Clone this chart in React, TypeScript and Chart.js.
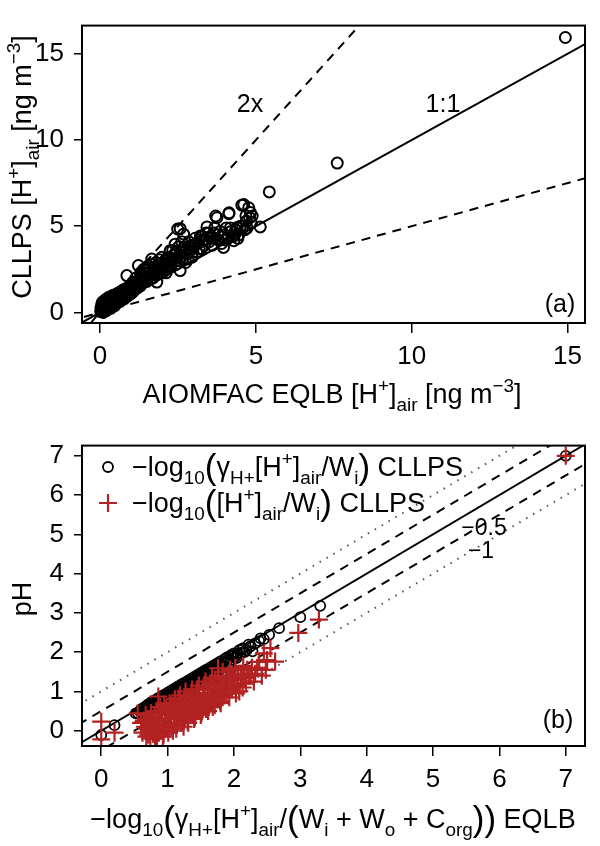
import React, { useEffect, useRef } from 'react';
import { Chart, registerables } from 'chart.js';

Chart.register(...registerables);

const FONT = '"Liberation Sans", Arial, Helvetica, sans-serif';
const RED = '#B22222';

// ---------- Panel (a): CLLPS vs AIOMFAC EQLB [H+]air (ng m-3) ----------
const aTicks = [0, 5, 10, 15];
const aSlopes = [1, 2, 0.5]; // 1:1, 2x, 0.5x reference lines
const aPairs: [number, number][] = [
  [0.02, 0.05], [0.03, 0.25], [0.05, 0.45], [0.06, 0.15], [0.08, 0.6], [0.1, 0.35], [0.1, 0.0],
  [0.12, 0.5], [0.14, 0.2], [0.15, 0.7], [0.17, 0.4], [0.2, 0.55], [0.2, 0.1], [0.22, 0.8],
  [0.25, 0.3], [0.27, 0.6], [0.3, 0.45], [0.3, 0.9], [0.33, 0.7], [0.35, 0.25], [0.38, 0.55],
  [0.4, 0.85], [0.42, 1.0], [0.45, 0.6], [0.47, 0.4], [0.5, 0.75], [0.52, 1.05], [0.55, 0.9],
  [0.58, 0.6], [0.6, 1.15], [0.62, 0.8], [0.65, 1.0], [0.68, 0.7], [0.7, 1.25], [0.72, 0.9],
  [0.75, 1.1], [0.78, 0.8], [0.8, 1.35], [0.82, 1.0], [0.85, 1.2], [0.88, 0.95], [0.9, 1.45],
  [0.93, 1.15], [0.96, 1.3], [1.0, 1.1], [1.0, 1.6],
  [0.04, 0.12], [0.07, 0.3], [0.09, 0.5], [0.11, 0.22], [0.13, 0.65], [0.16, 0.3], [0.18, 0.5],
  [0.19, 0.75], [0.23, 0.45], [0.24, 0.65], [0.26, 0.2], [0.28, 0.75], [0.31, 0.6], [0.34, 0.45],
  [0.36, 0.8], [0.39, 0.7], [0.41, 0.5], [0.44, 0.95], [0.46, 0.75], [0.49, 0.55], [0.51, 0.9],
  [0.54, 0.7], [0.57, 1.0], [0.59, 0.8], [0.61, 0.95], [0.64, 0.75], [0.67, 1.1], [0.69, 0.85],
  [0.71, 1.0], [0.74, 1.3], [0.77, 1.0], [0.79, 1.15], [0.83, 1.3], [0.87, 1.1], [0.91, 1.3],
  [0.94, 1.5], [0.98, 1.2],
  [0.86, 2.14], [1.05, 1.75], [1.1, 1.4], [1.15, 2.0], [1.2, 1.6], [1.23, 2.72], [1.25, 1.85],
  [1.3, 2.3], [1.35, 1.7], [1.4, 2.5], [1.45, 2.05], [1.5, 2.24], [1.5, 1.8], [1.55, 2.7],
  [1.6, 2.35], [1.62, 1.95], [1.66, 3.1], [1.7, 2.6], [1.75, 2.2], [1.8, 2.9], [1.82, 1.76],
  [1.85, 2.45], [1.9, 3.05], [1.95, 2.65], [1.98, 3.2], [2.0, 2.3], [2.05, 2.85], [2.1, 2.5],
  [2.15, 3.15], [2.2, 2.7], [1.3, 1.55], [1.7, 2.0], [2.25, 3.58],
  [1.03, 1.45], [1.06, 1.2], [1.09, 1.6], [1.13, 1.35], [1.18, 1.75], [1.22, 1.45], [1.27, 1.95],
  [1.33, 2.1], [1.38, 1.9], [1.42, 2.3], [1.47, 2.5], [1.53, 2.0], [1.58, 2.55], [1.64, 2.2],
  [1.68, 2.8], [1.73, 2.4], [1.78, 2.65], [1.83, 2.2], [1.88, 2.7], [1.92, 2.3], [2.02, 2.6],
  [2.08, 3.0], [2.12, 2.3], [2.18, 2.9], [2.24, 3.2], [2.28, 2.7],
  [2.3, 3.0], [2.35, 3.3], [2.41, 3.96], [2.45, 2.8], [2.49, 4.84], [2.57, 4.86], [2.57, 2.43],
  [2.6, 3.5], [2.65, 3.1], [2.68, 4.54], [2.7, 3.8], [2.75, 2.9], [2.8, 3.4], [2.85, 4.1],
  [2.89, 3.58], [2.95, 3.2], [3.0, 3.9], [3.05, 4.3], [3.1, 3.5], [3.15, 4.0], [3.22, 4.44],
  [3.25, 3.7], [3.3, 4.2], [3.35, 3.9], [3.4, 4.6], [3.43, 4.96], [3.5, 4.1], [3.55, 4.4],
  [2.33, 3.6], [2.38, 3.1], [2.44, 3.5], [2.52, 3.8], [2.55, 3.0], [2.62, 4.1], [2.72, 3.5],
  [2.78, 3.7], [2.82, 3.1], [2.92, 3.9], [2.98, 3.5], [3.08, 4.0], [3.18, 3.7], [3.28, 4.4],
  [3.38, 4.2], [3.48, 4.6],
  [3.6, 3.9], [3.65, 4.6], [3.71, 5.59], [3.75, 5.49], [3.8, 4.2], [3.85, 4.7], [3.9, 4.0],
  [3.96, 3.77], [4.0, 4.5], [4.05, 4.9], [4.1, 4.3], [4.13, 5.73], [4.14, 5.78], [4.2, 4.7],
  [4.25, 4.4], [4.29, 4.16], [4.35, 4.8], [4.4, 4.92], [4.45, 4.5], [4.5, 5.0], [4.55, 6.22],
  [4.61, 6.26], [4.65, 4.8], [4.7, 5.3], [4.77, 6.07], [4.8, 5.5], [4.85, 5.2], [4.88, 5.59],
  [3.58, 4.3], [3.68, 4.9], [3.78, 4.5], [3.88, 4.4], [4.02, 4.2], [4.18, 4.9], [4.32, 4.5],
  [4.42, 4.3], [4.58, 5.0], [4.68, 5.6], [4.72, 4.9], [4.82, 5.8],
  [5.14, 4.96], [5.43, 6.99], [7.61, 8.66], [14.93, 15.94],
];

// ---------- Panel (b): pH ----------
const bTicks = [0, 1, 2, 3, 4, 5, 6, 7];
const bSolidOffsets = [0];
const bDashedOffsets = [0.5, -0.5];
const bDottedOffsets = [1, -1];
const bCirclePairs: [number, number][] = [
  [0.0, -0.11], [0.2, 0.14], [0.52, 0.44], [0.58, 0.5], [0.62, 0.4], [0.65, 0.6], [0.68, 0.48],
  [0.7, 0.66], [0.72, 0.52], [0.75, 0.72], [0.77, 0.55], [0.8, 0.77], [0.82, 0.6], [0.85, 0.82],
  [0.87, 0.64], [0.9, 0.87], [0.92, 0.68], [0.95, 0.92], [0.97, 0.72], [1.0, 0.97], [1.02, 0.78],
  [1.05, 1.02], [1.07, 0.82], [1.1, 1.07], [1.12, 0.88], [1.15, 1.12], [1.17, 0.92], [1.2, 1.17],
  [1.22, 0.98], [1.25, 1.22], [1.27, 1.02], [1.3, 1.27], [1.32, 1.08], [1.35, 1.32], [1.37, 1.12],
  [1.4, 1.37], [1.42, 1.18], [1.45, 1.42], [1.47, 1.22], [1.5, 1.47], [1.52, 1.28], [1.55, 1.52],
  [1.57, 1.32], [1.6, 1.57], [1.62, 1.38], [1.65, 1.62], [1.67, 1.42], [1.7, 1.67], [1.72, 1.48],
  [1.75, 1.72], [1.78, 1.55], [1.8, 1.77], [1.83, 1.6], [1.86, 1.83], [1.9, 1.87], [1.93, 1.72],
  [1.96, 1.93], [2.0, 1.97], [2.04, 1.85], [2.08, 2.05], [2.12, 2.08], [2.16, 2.0], [2.22, 2.19],
  [0.55, 0.45], [0.6, 0.55], [0.63, 0.5], [0.66, 0.45], [0.69, 0.62], [0.71, 0.55], [0.73, 0.68],
  [0.76, 0.6], [0.79, 0.72], [0.81, 0.65], [0.84, 0.75], [0.86, 0.7], [0.89, 0.8], [0.91, 0.72],
  [0.94, 0.85], [0.96, 0.78], [0.99, 0.9], [1.01, 0.82], [1.04, 0.95], [1.06, 0.88], [1.09, 1.0],
  [1.11, 0.93], [1.14, 1.05], [1.16, 0.98], [1.19, 1.1], [1.21, 1.03], [1.24, 1.15], [1.26, 1.08],
  [1.29, 1.2], [1.31, 1.13], [1.34, 1.25], [1.36, 1.18], [1.39, 1.3], [1.41, 1.23], [1.44, 1.35],
  [1.46, 1.28], [1.49, 1.4], [1.51, 1.33], [1.54, 1.45], [1.56, 1.38], [1.59, 1.5], [1.61, 1.43],
  [1.64, 1.55], [1.66, 1.48], [1.69, 1.6], [1.71, 1.53], [1.74, 1.65], [1.76, 1.58], [1.79, 1.7],
  [1.81, 1.63], [1.84, 1.75], [1.88, 1.72], [1.91, 1.82], [1.95, 1.8], [1.98, 1.9], [2.02, 1.88],
  [2.06, 1.95], [2.1, 1.98], [2.14, 2.1], [2.19, 2.05], [2.25, 2.15], [2.32, 2.22], [2.4, 2.35],
  [2.28, 2.02], [2.38, 2.28], [2.45, 2.33], [2.53, 2.44], [2.68, 2.61], [3.0, 2.89], [3.3, 3.18],
  [7.0, 7.0],
];
const bCrossPairs: [number, number][] = [
  [0.0, 0.23], [0.0, -0.22], [0.2, -0.05], [0.55, 0.44], [0.6, 0.2], [0.62, -0.05], [0.66, 0.1],
  [0.68, -0.15], [0.7, 0.3], [0.72, 0.0], [0.74, -0.2], [0.76, 0.15], [0.78, -0.08], [0.8, 0.35],
  [0.82, 0.05], [0.84, -0.15], [0.86, 0.87], [0.86, 0.25], [0.88, 0.0], [0.9, 0.45], [0.92, 0.12],
  [0.94, -0.1], [0.96, 0.3], [0.98, 0.55], [1.0, 0.1], [1.02, 0.4], [1.04, 0.2], [1.06, 0.65],
  [1.08, 0.0], [1.1, 0.35], [1.12, 0.5], [1.14, 0.15], [1.16, 0.75], [1.18, 0.83], [1.2, 0.3],
  [1.22, 0.55], [1.24, 0.1], [1.26, 0.45], [1.28, 0.85], [1.3, 0.25], [1.32, 0.65], [1.34, 0.4],
  [1.36, 0.95], [1.38, 0.55], [1.4, 0.3], [1.42, 0.75], [1.44, 1.05], [1.46, 0.5], [1.48, 0.85],
  [1.5, 0.4], [1.52, 0.65], [1.54, 1.1], [1.56, 0.8], [1.58, 0.55], [1.6, 0.95], [1.62, 0.7],
  [1.64, 1.2], [1.66, 0.85], [1.68, 0.6], [1.7, 1.05], [1.72, 1.3], [1.74, 0.8], [1.76, 1.59],
  [1.78, 1.0], [1.8, 0.7], [1.82, 1.2], [1.85, 0.9], [1.88, 1.35], [1.9, 1.05], [1.93, 0.85],
  [1.96, 1.4], [2.0, 1.15], [2.03, 0.95], [2.06, 1.3], [2.1, 1.45], [2.13, 1.1], [2.16, 1.34],
  [2.2, 1.55], [2.25, 1.42], [2.3, 1.25], [2.35, 1.6], [2.45, 1.97], [2.48, 1.55], [2.5, 1.8],
  [2.55, 2.1], [2.62, 1.76],
  [0.64, 0.25], [0.67, 0.4], [0.69, 0.05], [0.71, -0.1], [0.73, 0.2], [0.75, 0.45], [0.77, 0.0],
  [0.79, 0.25], [0.81, -0.2], [0.83, 0.5], [0.85, 0.15], [0.87, -0.05], [0.89, 0.6], [0.91, 0.3],
  [0.93, -0.15], [0.95, 0.65], [0.97, 0.1], [0.99, 0.4], [1.01, -0.05], [1.03, 0.7], [1.05, 0.3],
  [1.07, 0.5], [1.09, 0.15], [1.11, 0.8], [1.13, 0.05], [1.15, 0.6], [1.17, 0.35], [1.19, 0.9],
  [1.21, 0.2], [1.23, 0.7], [1.25, 0.3], [1.27, 1.0], [1.29, 0.55], [1.31, 0.2], [1.33, 0.8],
  [1.35, 0.45], [1.37, 1.05], [1.39, 0.65], [1.41, 0.35], [1.43, 0.9], [1.45, 0.55], [1.47, 1.15],
  [1.49, 0.7], [1.51, 0.45], [1.53, 0.95], [1.55, 0.6], [1.57, 1.25], [1.59, 0.75], [1.61, 0.5],
  [1.63, 1.05], [1.65, 0.7], [1.67, 1.35], [1.69, 0.9], [1.71, 0.65], [1.73, 1.15], [1.75, 0.85],
  [1.77, 1.4], [1.79, 0.75], [1.81, 1.05], [1.83, 1.5], [1.86, 1.1], [1.89, 0.95], [1.91, 1.25],
  [1.94, 1.55], [1.97, 1.05], [1.99, 1.3], [2.02, 1.6], [2.05, 1.2], [2.08, 1.0], [2.11, 1.35],
  [2.14, 1.65], [2.18, 1.2], [2.22, 1.4], [2.27, 1.6], [2.32, 1.45], [2.38, 1.75], [2.42, 1.4],
  [2.97, 2.49], [3.28, 2.83], [7.0, 7.0],
];

// ---------- rich text helper (sub/superscripts) ----------
type Seg = { t: string; k?: 'sub' | 'sup' | 'big' };
const segSize = (size: number, k?: string) =>
  k === 'sub' || k === 'sup' ? size * 0.7 : k === 'big' ? size * 1.3 : size;
const segDy = (size: number, k?: string) =>
  k === 'sub' ? size * 0.3 : k === 'sup' ? -size * 0.42 : k === 'big' ? size * 0.12 : 0;

function richWidth(ctx: CanvasRenderingContext2D, segs: Seg[], size: number) {
  let w = 0;
  for (const s of segs) {
    ctx.font = `${segSize(size, s.k)}px ${FONT}`;
    w += ctx.measureText(s.t).width;
  }
  return w;
}
function drawRich(ctx: CanvasRenderingContext2D, segs: Seg[], x: number, y: number, size: number, align: 'left' | 'center', color = '#000') {
  const w = richWidth(ctx, segs, size);
  let cx = align === 'center' ? x - w / 2 : x;
  ctx.fillStyle = color;
  ctx.textAlign = 'left';
  ctx.textBaseline = 'alphabetic';
  for (const s of segs) {
    ctx.font = `${segSize(size, s.k)}px ${FONT}`;
    ctx.fillText(s.t, cx, y + segDy(size, s.k));
    cx += ctx.measureText(s.t).width;
  }
}
function drawRichRotated(ctx: CanvasRenderingContext2D, segs: Seg[], x: number, y: number, size: number) {
  ctx.save();
  ctx.translate(x, y);
  ctx.rotate(-Math.PI / 2);
  drawRich(ctx, segs, 0, 0, size, 'center');
  ctx.restore();
}

const aXTitle: Seg[] = [
  { t: 'AIOMFAC EQLB [H' }, { t: '+', k: 'sup' }, { t: ']' }, { t: 'air', k: 'sub' },
  { t: ' [ng m' }, { t: '\u22123', k: 'sup' }, { t: ']' },
];
const aYTitle: Seg[] = [
  { t: 'CLLPS [H' }, { t: '+', k: 'sup' }, { t: ']' }, { t: 'air', k: 'sub' },
  { t: ' [ng m' }, { t: '\u22123', k: 'sup' }, { t: ']' },
];
const bXTitle: Seg[] = [
  { t: '\u2212log' }, { t: '10', k: 'sub' }, { t: '(', k: 'big' }, { t: '\u03B3' }, { t: 'H+', k: 'sub' },
  { t: '[H' }, { t: '+', k: 'sup' }, { t: ']' }, { t: 'air', k: 'sub' }, { t: '/' }, { t: '(', k: 'big' },
  { t: 'W' }, { t: 'i', k: 'sub' }, { t: ' + W' }, { t: 'o', k: 'sub' }, { t: ' + C' }, { t: 'org', k: 'sub' },
  { t: ')', k: 'big' }, { t: ')', k: 'big' }, { t: ' EQLB' },
];
const bYTitle: Seg[] = [{ t: 'pH' }];
const bLegend1: Seg[] = [
  { t: '\u2212log' }, { t: '10', k: 'sub' }, { t: '(', k: 'big' }, { t: '\u03B3' }, { t: 'H+', k: 'sub' },
  { t: '[H' }, { t: '+', k: 'sup' }, { t: ']' }, { t: 'air', k: 'sub' }, { t: '/W' }, { t: 'i', k: 'sub' },
  { t: ')', k: 'big' }, { t: ' CLLPS' },
];
const bLegend2: Seg[] = [
  { t: '\u2212log' }, { t: '10', k: 'sub' }, { t: '(', k: 'big' },
  { t: '[H' }, { t: '+', k: 'sup' }, { t: ']' }, { t: 'air', k: 'sub' }, { t: '/W' }, { t: 'i', k: 'sub' },
  { t: ')', k: 'big' }, { t: ' CLLPS' },
];

function makeAxis(min: number, max: number, ticks: number[], tickLen: number, pad: number, afterFit: (s: any) => void) {
  return {
    type: 'linear' as const,
    min,
    max,
    afterBuildTicks: (s: any) => {
      s.ticks = ticks.map((v) => ({ value: v }));
    },
    afterFit,
    grid: { display: true, drawOnChartArea: false, drawTicks: true, tickLength: tickLen, color: '#000', lineWidth: 1.5 },
    border: { display: false },
    ticks: {
      color: '#000',
      font: { family: FONT, size: 26 },
      padding: pad,
      maxRotation: 0,
      autoSkip: false,
      callback: (v: any) => String(v),
    },
  };
}

function lineThrough(slope: number, offset: number, x0: number, x1: number) {
  return [
    { x: x0, y: slope * x0 + offset },
    { x: x1, y: slope * x1 + offset },
  ];
}

function boxPlugin(extra: (ctx: CanvasRenderingContext2D, chart: any) => void) {
  return {
    id: 'deco',
    afterDraw(chart: any) {
      const ctx: CanvasRenderingContext2D = chart.ctx;
      const { left, right, top, bottom } = chart.chartArea;
      ctx.save();
      ctx.strokeStyle = '#000';
      ctx.lineWidth = 2;
      ctx.strokeRect(left, top, right - left, bottom - top);
      extra(ctx, chart);
      ctx.restore();
    },
  };
}

export default function App() {
  const refA = useRef<HTMLCanvasElement>(null);
  const refB = useRef<HTMLCanvasElement>(null);

  useEffect(() => {
    const lineDs = (data: any[], dash: number[], color = '#000', width = 2) => ({
      type: 'scatter' as const,
      data,
      showLine: true,
      borderColor: color,
      borderWidth: width,
      borderDash: dash,
      pointRadius: 0,
      clip: 0,
      order: 5,
    });

    const chartA = new Chart(refA.current!, {
      type: 'scatter',
      data: {
        datasets: [
          {
            data: aPairs.map(([x, y]) => ({ x, y })),
            pointStyle: 'circle',
            pointRadius: 5.5,
            borderWidth: 2,
            borderColor: '#000',
            backgroundColor: 'rgba(0,0,0,0)',
            order: 1,
          },
          lineDs(lineThrough(aSlopes[0], 0, -2, 20), []),
          lineDs(lineThrough(aSlopes[1], 0, -2, 20), [9, 7]),
          lineDs(lineThrough(aSlopes[2], 0, -2, 20), [9, 7]),
        ],
      },
      options: {
        animation: false,
        responsive: false,
        devicePixelRatio: 1,
        layout: { padding: { left: 0, right: 15, top: 23, bottom: 0 } },
        plugins: { legend: { display: false }, tooltip: { enabled: false } },
        scales: {
          x: makeAxis(-0.58, 15.56, aTicks, 10, 8, (s) => { s.height = 97; }),
          y: makeAxis(-0.61, 16.63, aTicks, 8, 10, (s) => { s.width = 82; }),
        },
      },
      plugins: [
        boxPlugin((ctx) => {
          drawRich(ctx, aXTitle, 332, 403, 27, 'center');
          drawRichRotated(ctx, aYTitle, 31, 167, 27);
          drawRich(ctx, [{ t: '2x' }], 250, 112, 25, 'center');
          drawRich(ctx, [{ t: '1:1' }], 443, 112, 25, 'center');
          drawRich(ctx, [{ t: '(a)' }], 560, 312, 25, 'center');
        }),
      ],
    } as any);

    const chartB = new Chart(refB.current!, {
      type: 'scatter',
      data: {
        datasets: [
          {
            data: bCrossPairs.map(([x, y]) => ({ x, y })),
            pointStyle: 'cross',
            pointRadius: 9,
            borderWidth: 2.2,
            borderColor: RED,
            backgroundColor: RED,
            order: 0,
          },
          {
            data: bCirclePairs.map(([x, y]) => ({ x, y })),
            pointStyle: 'circle',
            pointRadius: 5,
            borderWidth: 1.8,
            borderColor: '#000',
            backgroundColor: 'rgba(0,0,0,0)',
            order: 1,
          },
          ...bSolidOffsets.map((o) => lineDs(lineThrough(1, o, -2, 10), [])),
          ...bDashedOffsets.map((o) => lineDs(lineThrough(1, o, -2, 10), [9, 7])),
          ...bDottedOffsets.map((o) => lineDs(lineThrough(1, o, -2, 10), [1.5, 6.5], '#555', 2)),
        ],
      },
      options: {
        animation: false,
        responsive: false,
        devicePixelRatio: 1,
        layout: { padding: { left: 0, right: 15, top: 24, bottom: 0 } },
        plugins: { legend: { display: false }, tooltip: { enabled: false } },
        scales: {
          x: makeAxis(-0.29, 7.29, bTicks, 10, 8, (s) => { s.height = 100; }),
          y: makeAxis(-0.39, 7.26, bTicks, 8, 10, (s) => { s.width = 82; }),
        },
      },
      plugins: [
        boxPlugin((ctx) => {
          drawRich(ctx, bXTitle, 333, 408, 27, 'center');
          drawRichRotated(ctx, bYTitle, 31, 179, 27);
          // legend
          ctx.strokeStyle = '#000';
          ctx.lineWidth = 1.8;
          ctx.beginPath();
          ctx.arc(108, 47, 5, 0, Math.PI * 2);
          ctx.stroke();
          ctx.strokeStyle = RED;
          ctx.lineWidth = 2.2;
          ctx.beginPath();
          ctx.moveTo(99, 83); ctx.lineTo(117, 83);
          ctx.moveTo(108, 74); ctx.lineTo(108, 92);
          ctx.stroke();
          drawRich(ctx, bLegend1, 132, 56, 27, 'left');
          drawRich(ctx, bLegend2, 132, 92, 27, 'left');
          drawRich(ctx, [{ t: '\u22120.5' }], 484, 115, 23, 'center');
          drawRich(ctx, [{ t: '\u22121' }], 481, 138, 23, 'center');
          drawRich(ctx, [{ t: '(b)' }], 558, 308, 25, 'center');
        }),
      ],
    } as any);

    return () => {
      chartA.destroy();
      chartB.destroy();
    };
  }, []);

  return (
    <div style={{ position: 'absolute', left: 0, top: 0, width: 600, height: 846, background: '#fff' }}>
      <canvas ref={refA} width={600} height={420} style={{ position: 'absolute', left: 0, top: 0, width: 600, height: 420 }} />
      <canvas ref={refB} width={600} height={426} style={{ position: 'absolute', left: 0, top: 420, width: 600, height: 426 }} />
    </div>
  );
}
